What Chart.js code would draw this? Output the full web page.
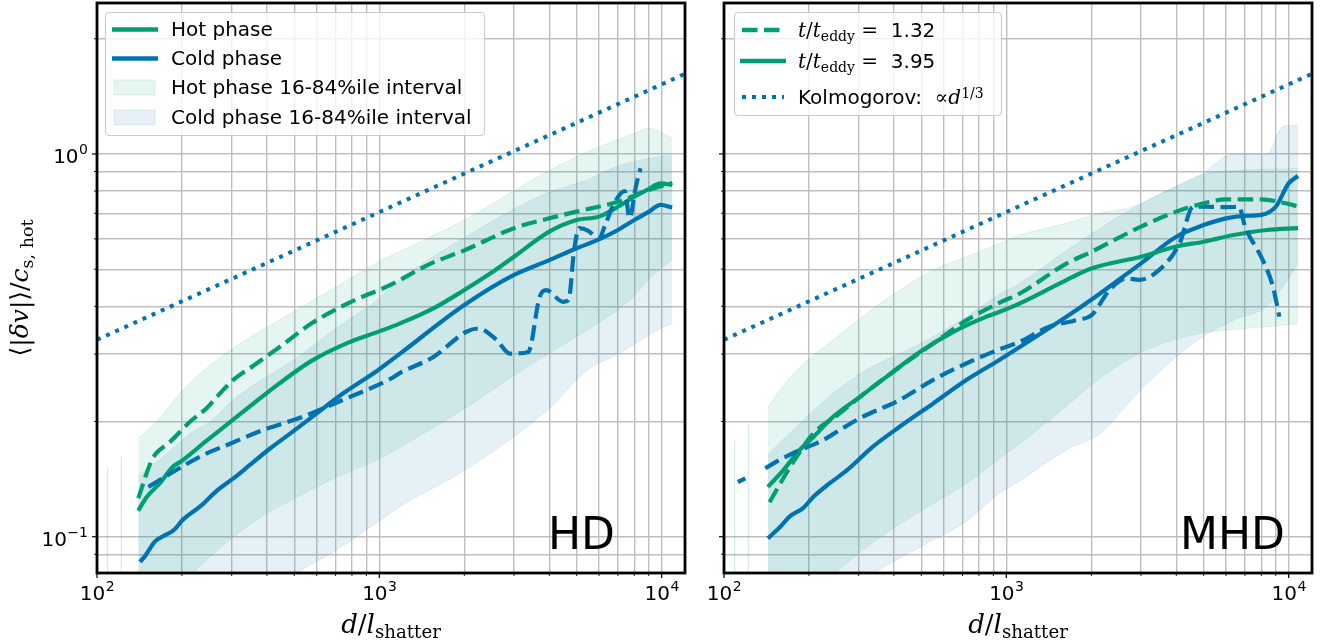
<!DOCTYPE html>
<html>
<head>
<meta charset="utf-8">
<script src="https://cdn.jsdelivr.net/npm/chart.js@4.4.1/dist/chart.umd.min.js"></script>
<style>
  body { margin: 0; background: #fff; }
  #wrap { position: relative; width: 1326px; height: 642px; overflow: hidden; font-family: 'DejaVu Sans', sans-serif; color: #000; }
  canvas { position: absolute; top: 0; }
  svg { position: absolute; left: 0; top: 0; }
  .txt { position: absolute; white-space: nowrap; line-height: 24px; font-size: 20px; }
  .m { font-family: 'DejaVu Serif', serif; }
  .m i { font-style: italic; }
  sub { font-size: 0.7em; vertical-align: -0.28em; line-height: 0; }
  sup { font-size: 0.7em; vertical-align: 0.45em; line-height: 0; }
  .big { position: absolute; font-size: 44px; line-height: 44px; }
  .xt { position: absolute; font-size: 26px; line-height: 30px; transform: translateX(-50%); white-space: nowrap; }
  .yt { position: absolute; font-size: 25px; line-height: 30px; white-space: nowrap; transform: translate(-50%, -50%) rotate(-90deg); }
</style>
</head>
<body>
<div id="wrap">
  <canvas id="hd" width="700" height="642" style="left:0"></canvas>
  <canvas id="mhd" width="626" height="642" style="left:700px"></canvas>

  <svg width="1326" height="642">
    <!-- HD legend -->
    <rect x="105.5" y="12.5" width="379" height="123" rx="4" fill="#fff" fill-opacity="0.8" stroke="#cccccc" stroke-width="1.2"/>
    <line x1="112" y1="29.5" x2="158" y2="29.5" stroke="#029e73" stroke-width="4.4"/>
    <line x1="112" y1="58.5" x2="158" y2="58.5" stroke="#0173b2" stroke-width="4.4"/>
    <rect x="114" y="80" width="41" height="15" fill="rgba(2,158,115,0.1)" stroke="rgba(2,158,115,0.12)"/>
    <rect x="114" y="110" width="41" height="15" fill="rgba(1,115,178,0.1)" stroke="rgba(1,115,178,0.12)"/>
    <!-- MHD legend -->
    <rect x="734.5" y="12.5" width="267" height="103" rx="4" fill="#fff" fill-opacity="0.8" stroke="#cccccc" stroke-width="1.2"/>
    <line x1="742" y1="30" x2="784" y2="30" stroke="#029e73" stroke-width="4.4" stroke-dasharray="15.5 6.5"/>
    <line x1="740" y1="61" x2="786" y2="61" stroke="#029e73" stroke-width="4.4"/>
    <line x1="742" y1="97" x2="784" y2="97" stroke="#0173b2" stroke-width="4" stroke-dasharray="4 6"/>
  </svg>

  <div class="txt" style="left:171px; top:17px">Hot phase</div>
  <div class="txt" style="left:171px; top:46px">Cold phase</div>
  <div class="txt" style="left:171px; top:75px">Hot phase 16-84%ile interval</div>
  <div class="txt" style="left:171px; top:105px">Cold phase 16-84%ile interval</div>

  <div class="txt" style="left:798px; top:18px"><span class="m"><i>t</i>/<i>t</i><sub>eddy</sub> =</span>&nbsp; 1.32</div>
  <div class="txt" style="left:798px; top:49px"><span class="m"><i>t</i>/<i>t</i><sub>eddy</sub> =</span>&nbsp; 3.95</div>
  <div class="txt" style="left:798px; top:85px">Kolmogorov: &nbsp;<span class="m">∝<i>d</i><sup>1/3</sup></span></div>

  <div class="big" style="left:548px; top:512px">HD</div>
  <div class="big" style="left:1180px; top:512px">MHD</div>

  <div class="xt m" style="left:391px; top:609px"><i>d</i>/<i>l</i><sub>shatter</sub></div>
  <div class="xt m" style="left:1018px; top:609px"><i>d</i>/<i>l</i><sub>shatter</sub></div>
  <div class="yt m" style="left:20px; top:288px">⟨|<i>δv</i>|⟩/<i>c</i><sub>s, hot</sub></div>
</div>

<script>
// --- 축 / 눈금 ---
const X_MIN = 100, X_MAX = 12100;
const Y_MIN = 0.0804, Y_MAX = 2.48;
const xTicks = [100, 200, 300, 400, 500, 600, 700, 800, 900, 1000, 2000, 3000, 4000, 5000, 6000, 7000, 8000, 9000, 10000];
const yTicks = [0.09, 0.1, 0.2, 0.3, 0.4, 0.5, 0.6, 0.7, 0.8, 0.9, 1, 2];
const xTickExp = { 100: '2', 1000: '3', 10000: '4' };   // 10^n 라벨
const yTickExp = { 0.1: '\u22121', 1: '0' };

// --- Kolmogorov 기준선 (d^1/3) ---
const kolX = [100, 12100];
const kolY = [0.327, 1.62];

// --- HD: 선 ---
const hdHotSolidX = [140, 150, 167, 185, 200, 244, 290, 356, 438, 575, 780, 1000, 1185, 1555, 2000, 2500, 3000, 4000, 5000, 6000, 7000, 8000, 9000, 9900, 10900];
const hdHotSolidY = [0.117, 0.127, 0.138, 0.152, 0.158, 0.178, 0.197, 0.222, 0.250, 0.288, 0.322, 0.344, 0.361, 0.395, 0.441, 0.49, 0.539, 0.627, 0.672, 0.686, 0.728, 0.774, 0.81, 0.838, 0.83];
const hdHotDashX = [140, 156, 163, 180, 214, 245, 280, 304, 356, 438, 576, 784, 1067, 1185, 1500, 2000, 3000, 4000, 5000, 7000, 9000, 10900];
const hdHotDashY = [0.126, 0.158, 0.166, 0.176, 0.200, 0.217, 0.242, 0.257, 0.279, 0.311, 0.361, 0.409, 0.451, 0.469, 0.515, 0.56, 0.64, 0.679, 0.707, 0.75, 0.805, 0.84];
const hdColdSolidX = [142, 148, 160, 170, 187, 202, 232, 266, 304, 348, 410, 483, 600, 745, 880, 1000, 1185, 2000, 3000, 4000, 5000, 6000, 7000, 8000, 9000, 9900, 10900];
const hdColdSolidY = [0.086, 0.089, 0.097, 0.100, 0.104, 0.111, 0.120, 0.132, 0.142, 0.154, 0.170, 0.186, 0.210, 0.237, 0.257, 0.274, 0.301, 0.403, 0.483, 0.528, 0.567, 0.598, 0.633, 0.672, 0.706, 0.736, 0.725];
const hdColdDashX = [152, 187, 232, 296, 388, 538, 745, 1090, 1185, 1555, 2030, 2240, 2600, 2900, 3370, 3700, 3900, 4480, 4680, 4900, 5100, 5500, 5990, 6300, 6700, 7400, 7700, 8100, 8420];
const hdColdDashY = [0.135, 0.148, 0.162, 0.175, 0.190, 0.206, 0.228, 0.258, 0.268, 0.295, 0.343, 0.350, 0.327, 0.301, 0.304, 0.424, 0.441, 0.411, 0.415, 0.561, 0.640, 0.630, 0.600, 0.650, 0.728, 0.800, 0.680, 0.820, 0.918];

// --- HD: 16-84% 구간 ---
const hdHotBandX = [140, 163, 198, 253, 356, 502, 707, 1000, 1414, 1987, 2800, 3950, 5560, 7850, 9000, 10900];
const hdHotLo = [0.060, 0.065, 0.075, 0.089, 0.109, 0.126, 0.143, 0.160, 0.185, 0.215, 0.255, 0.300, 0.350, 0.420, 0.470, 0.530];
const hdHotHi = [0.181, 0.200, 0.238, 0.282, 0.335, 0.389, 0.451, 0.524, 0.592, 0.670, 0.777, 0.901, 1.020, 1.125, 1.168, 1.100];
const hdColdBandX = [140, 172, 214, 252, 304, 368, 500, 700, 1000, 1185, 2030, 3900, 5440, 7000, 9900, 10900];
const hdColdLo = [0.040, 0.042, 0.046, 0.050, 0.056, 0.062, 0.079, 0.092, 0.110, 0.120, 0.150, 0.213, 0.272, 0.300, 0.350, 0.360];
const hdColdHi = [0.144, 0.162, 0.186, 0.200, 0.228, 0.252, 0.290, 0.350, 0.420, 0.470, 0.608, 0.789, 0.855, 0.930, 0.984, 0.990];

// --- MHD: 선 ---
const mhdHotSolidX = [143, 162, 186, 207, 244, 303, 377, 494, 649, 851, 948, 1116, 1638, 2000, 3000, 4000, 5000, 6380, 8370, 10800];
const mhdHotSolidY = [0.135, 0.149, 0.169, 0.182, 0.206, 0.232, 0.262, 0.304, 0.343, 0.376, 0.387, 0.407, 0.469, 0.502, 0.539, 0.573, 0.590, 0.614, 0.633, 0.640];
const mhdHotDashX = [145, 162, 181, 207, 257, 303, 420, 551, 724, 948, 1116, 1638, 2000, 3000, 4000, 5000, 6000, 8000, 9550, 10700];
const mhdHotDashY = [0.123, 0.142, 0.162, 0.186, 0.210, 0.232, 0.278, 0.320, 0.368, 0.409, 0.432, 0.518, 0.555, 0.646, 0.707, 0.743, 0.761, 0.761, 0.746, 0.731];
const mhdColdSolidX = [143, 158, 171, 191, 207, 237, 272, 337, 420, 551, 724, 948, 1116, 1638, 2000, 2450, 3000, 4000, 5000, 6000, 7000, 8000, 9000, 10000, 10800];
const mhdColdSolidY = [0.099, 0.106, 0.113, 0.119, 0.127, 0.138, 0.149, 0.172, 0.194, 0.223, 0.257, 0.290, 0.313, 0.376, 0.416, 0.464, 0.518, 0.608, 0.652, 0.679, 0.689, 0.693, 0.728, 0.838, 0.876];
const mhdColdDashX = [112, 119, 128, 140, 158, 181, 207, 225, 257, 303, 420, 551, 724, 948, 1116, 1420, 1770, 2010, 2320, 2670, 2960, 3480, 4110, 4590, 5120, 6000, 6670, 7010, 8100, 8800, 9270];
const mhdColdDashY = [0.139, 0.142, null, 0.151, 0.159, 0.167, 0.174, 0.179, 0.190, 0.204, 0.228, 0.257, 0.284, 0.309, 0.323, 0.354, 0.368, 0.380, 0.441, 0.473, 0.469, 0.498, 0.584, 0.728, 0.728, 0.726, 0.728, 0.646, 0.528, 0.450, 0.376];

// --- MHD: 16-84% 구간 ---
const mhdHotBandX = [143, 158, 186, 244, 320, 420, 551, 724, 948, 1116, 1638, 2150, 2800, 3680, 4870, 6380, 8370, 10800];
const mhdHotLo = [0.060, 0.065, 0.070, 0.080, 0.094, 0.108, 0.122, 0.138, 0.160, 0.175, 0.220, 0.260, 0.295, 0.322, 0.340, 0.348, 0.354, 0.360];
const mhdHotHi = [0.218, 0.242, 0.278, 0.327, 0.383, 0.441, 0.498, 0.539, 0.584, 0.614, 0.660, 0.700, 0.728, 0.800, 0.880, 0.905, 0.912, 0.917];
const mhdColdBandX = [143, 186, 244, 320, 420, 551, 724, 948, 1116, 1638, 2150, 2800, 3680, 4870, 6380, 8370, 9550, 10800];
const mhdColdLo = [0.050, 0.055, 0.065, 0.078, 0.088, 0.098, 0.110, 0.130, 0.140, 0.169, 0.186, 0.230, 0.280, 0.330, 0.368, 0.400, 0.450, 0.518];
const mhdColdHi = [0.164, 0.198, 0.237, 0.273, 0.301, 0.333, 0.376, 0.430, 0.459, 0.560, 0.640, 0.720, 0.800, 0.880, 1.000, 1.000, 1.180, 1.190];

// --- 왼쪽 끝 희미한 세로선 (구간 잔상) ---
const stubX = [109, 122];
const hdStubTop = [0.151, 0.162];
const mhdStubTop = [0.178, 0.198];

// --- 스타일 ---
const GREEN = '#029e73', BLUE = '#0173b2';
const GREEN_A = 'rgba(2,158,115,0.1)', BLUE_A = 'rgba(1,115,178,0.1)';
const DASH = [15.5, 6.5], DOT = [4, 6];
const GRID = '#bfbfbf';

const pts = (xs, ys) => xs.map((x, i) => ({ x: x, y: ys[i] }));

function curve(xs, ys, color, dash) {
    return {
        data: pts(xs, ys), borderColor: color, borderWidth: 4.2, borderDash: dash || [],
        pointRadius: 0, fill: false, cubicInterpolationMode: 'monotone', borderJoinStyle: 'round', spanGaps: false
    };
}
function bandEdge(xs, ys, color, fillPrev) {
    return {
        data: pts(xs, ys), borderColor: color, borderWidth: 1, backgroundColor: color,
        pointRadius: 0, fill: fillPrev ? '-1' : false, cubicInterpolationMode: 'monotone'
    };
}
function stub(x, top, color) {
    return { data: [{ x: x, y: 0.05 }, { x: x, y: top }], borderColor: color, borderWidth: 1.3, pointRadius: 0, fill: false };
}

// "10" + 위첨자 지수 라벨
function drawPow(ctx, exp, x, y, align) {
    ctx.font = '20px "DejaVu Sans"';
    const wb = ctx.measureText('10').width;
    ctx.font = '14px "DejaVu Sans"';
    const we = ctx.measureText(exp).width;
    const left = align === 'center' ? x - (wb + we) / 2 : x - wb - we;
    ctx.font = '20px "DejaVu Sans"';
    ctx.fillText('10', left, y);
    ctx.font = '14px "DejaVu Sans"';
    ctx.fillText(exp, left + wb + 0.5, y - 9);
}

// 프레임 + 눈금 + 라벨
const frameAndTicks = {
    id: 'frameAndTicks',
    afterDraw(chart, args, opts) {
        const { ctx, chartArea: a, scales: { x, y } } = chart;
        ctx.save();
        ctx.strokeStyle = '#000';
        ctx.fillStyle = '#000';
        ctx.textBaseline = 'alphabetic';
        ctx.textAlign = 'left';
        xTicks.forEach(v => {
            const major = v in xTickExp;
            const px = x.getPixelForValue(v);
            ctx.lineWidth = major ? 1.2 : 0.9;
            ctx.beginPath(); ctx.moveTo(px, a.bottom); ctx.lineTo(px, a.bottom + (major ? 5 : 3)); ctx.stroke();
            if (major) drawPow(ctx, xTickExp[v], px, a.bottom + 27, 'center');
        });
        yTicks.forEach(v => {
            const major = v in yTickExp;
            const py = y.getPixelForValue(v);
            ctx.lineWidth = major ? 1.2 : 0.9;
            ctx.beginPath(); ctx.moveTo(a.left, py); ctx.lineTo(a.left - (major ? 5 : 3), py); ctx.stroke();
            if (major && opts.showY) drawPow(ctx, yTickExp[v], a.left - 9.5, py + 9, 'right');
        });
        ctx.lineWidth = 2.8;
        ctx.strokeRect(a.left, a.top, a.right - a.left, a.bottom - a.top);
        ctx.restore();
    }
};

function noPad(s) {
    s.paddingTop = 0; s.paddingBottom = 0; s.paddingLeft = 0; s.paddingRight = 0;
}

function makePanel(id, d, yWidth, padRight, showY) {
    const datasets = [
        curve(d.hotDashX, d.hotDashY, GREEN, DASH),
        curve(d.coldDashX, d.coldDashY, BLUE, DASH),
        curve(d.hotSolidX, d.hotSolidY, GREEN),
        curve(d.coldSolidX, d.coldSolidY, BLUE),
        { data: pts(kolX, kolY), borderColor: BLUE, borderWidth: 4, borderDash: DOT, pointRadius: 0, fill: false },
        bandEdge(d.hotBandX, d.hotLo, GREEN_A, false),
        bandEdge(d.hotBandX, d.hotHi, GREEN_A, true),
        bandEdge(d.coldBandX, d.coldLo, BLUE_A, false),
        bandEdge(d.coldBandX, d.coldHi, BLUE_A, true),
        stub(stubX[0], d.stubTop[0], 'rgba(2,158,115,0.18)'),
        stub(stubX[1], d.stubTop[1], 'rgba(1,115,178,0.15)')
    ];
    return new Chart(document.getElementById(id), {
        type: 'line',
        data: { datasets: datasets },
        options: {
            responsive: false, animation: false, devicePixelRatio: 1,
            layout: { padding: { left: 0, top: 3, right: padRight, bottom: 0 } },
            plugins: {
                legend: { display: false }, tooltip: { enabled: false },
                frameAndTicks: { showY: showY }
            },
            scales: {
                x: {
                    type: 'logarithmic', min: X_MIN, max: X_MAX,
                    afterBuildTicks: s => { s.ticks = xTicks.map(v => ({ value: v })); },
                    afterFit: s => { s.height = 69; noPad(s); },
                    grid: { color: GRID, lineWidth: 1.4, drawTicks: false },
                    border: { display: false },
                    ticks: { autoSkip: false, maxRotation: 0, callback: () => '' }
                },
                y: {
                    type: 'logarithmic', min: Y_MIN, max: Y_MAX,
                    afterBuildTicks: s => { s.ticks = yTicks.map(v => ({ value: v })); },
                    afterFit: s => { s.width = yWidth; noPad(s); },
                    grid: { color: GRID, lineWidth: 1.4, drawTicks: false },
                    border: { display: false },
                    ticks: { autoSkip: false, callback: () => '' }
                }
            }
        },
        plugins: [frameAndTicks]
    });
}

makePanel('hd', {
    hotSolidX: hdHotSolidX, hotSolidY: hdHotSolidY, hotDashX: hdHotDashX, hotDashY: hdHotDashY,
    coldSolidX: hdColdSolidX, coldSolidY: hdColdSolidY, coldDashX: hdColdDashX, coldDashY: hdColdDashY,
    hotBandX: hdHotBandX, hotLo: hdHotLo, hotHi: hdHotHi,
    coldBandX: hdColdBandX, coldLo: hdColdLo, coldHi: hdColdHi,
    stubTop: hdStubTop
}, 97, 15, true);

makePanel('mhd', {
    hotSolidX: mhdHotSolidX, hotSolidY: mhdHotSolidY, hotDashX: mhdHotDashX, hotDashY: mhdHotDashY,
    coldSolidX: mhdColdSolidX, coldSolidY: mhdColdSolidY, coldDashX: mhdColdDashX, coldDashY: mhdColdDashY,
    hotBandX: mhdHotBandX, hotLo: mhdHotLo, hotHi: mhdHotHi,
    coldBandX: mhdColdBandX, coldLo: mhdColdLo, coldHi: mhdColdHi,
    stubTop: mhdStubTop
}, 24, 14, false);
</script>
</body>
</html>
